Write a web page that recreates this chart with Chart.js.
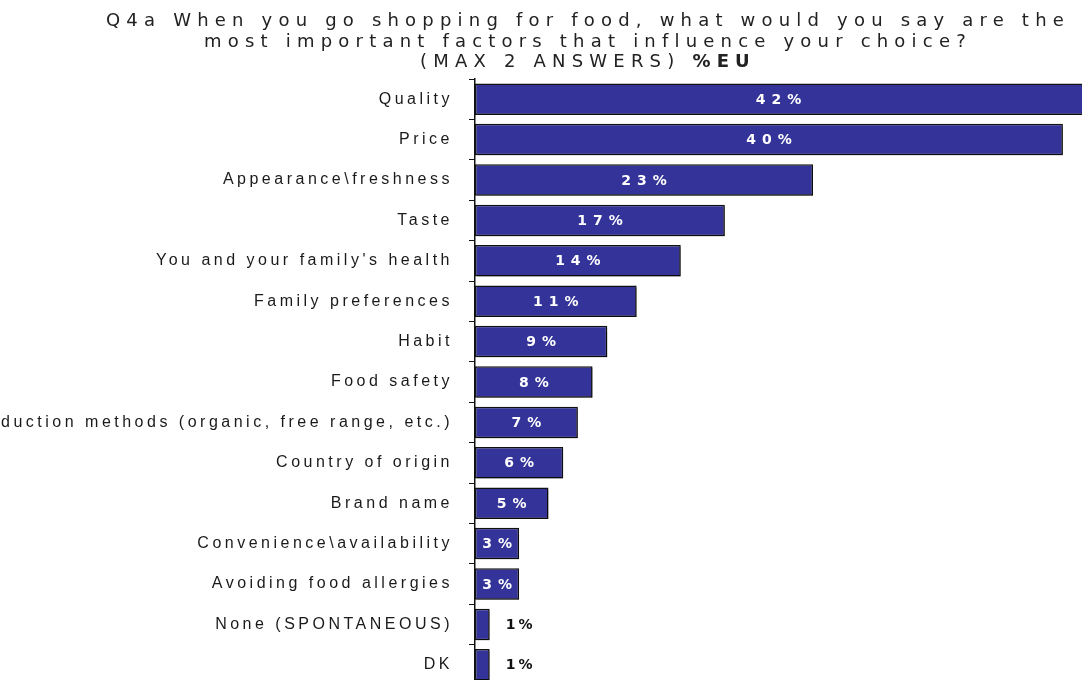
<!DOCTYPE html>
<html>
<head>
<meta charset="utf-8">
<script src="https://cdn.jsdelivr.net/npm/chart.js@4.4.1/dist/chart.umd.min.js"></script>
<style>
  html, body { margin: 0; padding: 0; background: #fff; overflow: hidden; }
  #wrap { position: relative; width: 1082px; height: 685px; }
  #title {
    position: absolute; top: 10px; left: 0; width: 1176px;
    text-align: center; font: 18px "DejaVu Sans", Verdana, sans-serif;
    letter-spacing: 6.2px; line-height: 20.5px; color: #222; white-space: nowrap;
  }
</style>
</head>
<body>
<div id="wrap">
  <canvas id="myChart" width="1082" height="685"></canvas>
  <div id="title">Q4a When you go shopping for food, what would you say are the<br>most important factors that influence your choice?<br>(MAX 2 ANSWERS) <b>%EU</b></div>
</div>
<script>
// data
const categories = [
  "Quality",
  "Price",
  "Appearance\\freshness",
  "Taste",
  "You and your family's health",
  "Family preferences",
  "Habit",
  "Food safety",
  "Production methods (organic, free range, etc.)",
  "Country of origin",
  "Brand name",
  "Convenience\\availability",
  "Avoiding food allergies",
  "None (SPONTANEOUS)",
  "DK"
];
const values = [42, 40, 23, 17, 14, 11, 9, 8, 7, 6, 5, 3, 3, 1, 1];
const axisMax = 41.3; // the Quality bar runs off the right edge

const spacing = {
  id: "spacing",
  beforeLayout(chart) { chart.ctx.letterSpacing = "3.5px"; },
  beforeDraw(chart) { chart.ctx.letterSpacing = "3.5px"; }
};

const barLabels = {
  id: "barLabels",
  beforeDatasetsDraw(chart) {
    const ctx = chart.ctx;
    ctx.save();
    ctx.shadowColor = "rgba(0,0,0,0.3)";
    ctx.shadowOffsetX = 2;
    ctx.shadowOffsetY = 2;
    ctx.shadowBlur = 1;
  },
  afterDatasetsDraw(chart) {
    const ctx = chart.ctx;
    ctx.restore();
    const area = chart.chartArea;
    const meta = chart.getDatasetMeta(0);
    meta.data.forEach((bar, i) => {
      const v = values[i];
      const right = Math.min(bar.x, area.right);
      ctx.save();
      ctx.textBaseline = "middle";
      ctx.font = "bold 14px 'DejaVu Sans'";
      if (v >= 3) {
        ctx.letterSpacing = "6px";
        ctx.fillStyle = "#fff";
        ctx.textAlign = "center";
        ctx.fillText(v + "%", (bar.base + right) / 2 + 3, bar.y + 1);
      } else {
        ctx.letterSpacing = "3px";
        ctx.fillStyle = "#111";
        ctx.textAlign = "left";
        ctx.fillText(v + "%", right + 16, bar.y + 1);
      }
      ctx.restore();
    });
  }
};

new Chart(document.getElementById("myChart"), {
  type: "bar",
  data: {
    labels: categories,
    datasets: [{
      data: values,
      backgroundColor: "#333399",
      borderColor: "#111",
      borderWidth: 1.5,
      borderSkipped: false,
      barPercentage: 0.78,
      categoryPercentage: 1
    }]
  },
  options: {
    indexAxis: "y",
    responsive: false,
    animation: false,
    layout: { padding: { top: 79, right: 0, bottom: 0, left: 0 } },
    plugins: {
      legend: { display: false },
      tooltip: { enabled: false }
    },
    scales: {
      x: { display: false, min: 0, max: axisMax },
      y: {
        afterFit(scale) {
          scale.width = 475;
          scale.paddingTop = 0;
          scale.paddingBottom = 0;
        },
        border: { color: "#111", width: 1.5 },
        grid: { drawOnChartArea: false, offset: true, tickLength: 6, tickColor: "#111" },
        ticks: {
          padding: 16,
          color: "#1a1a1a",
          font: { family: "'Liberation Sans', Arial, sans-serif", size: 16 }
        }
      }
    }
  },
  plugins: [spacing, barLabels]
});
</script>
</body>
</html>
